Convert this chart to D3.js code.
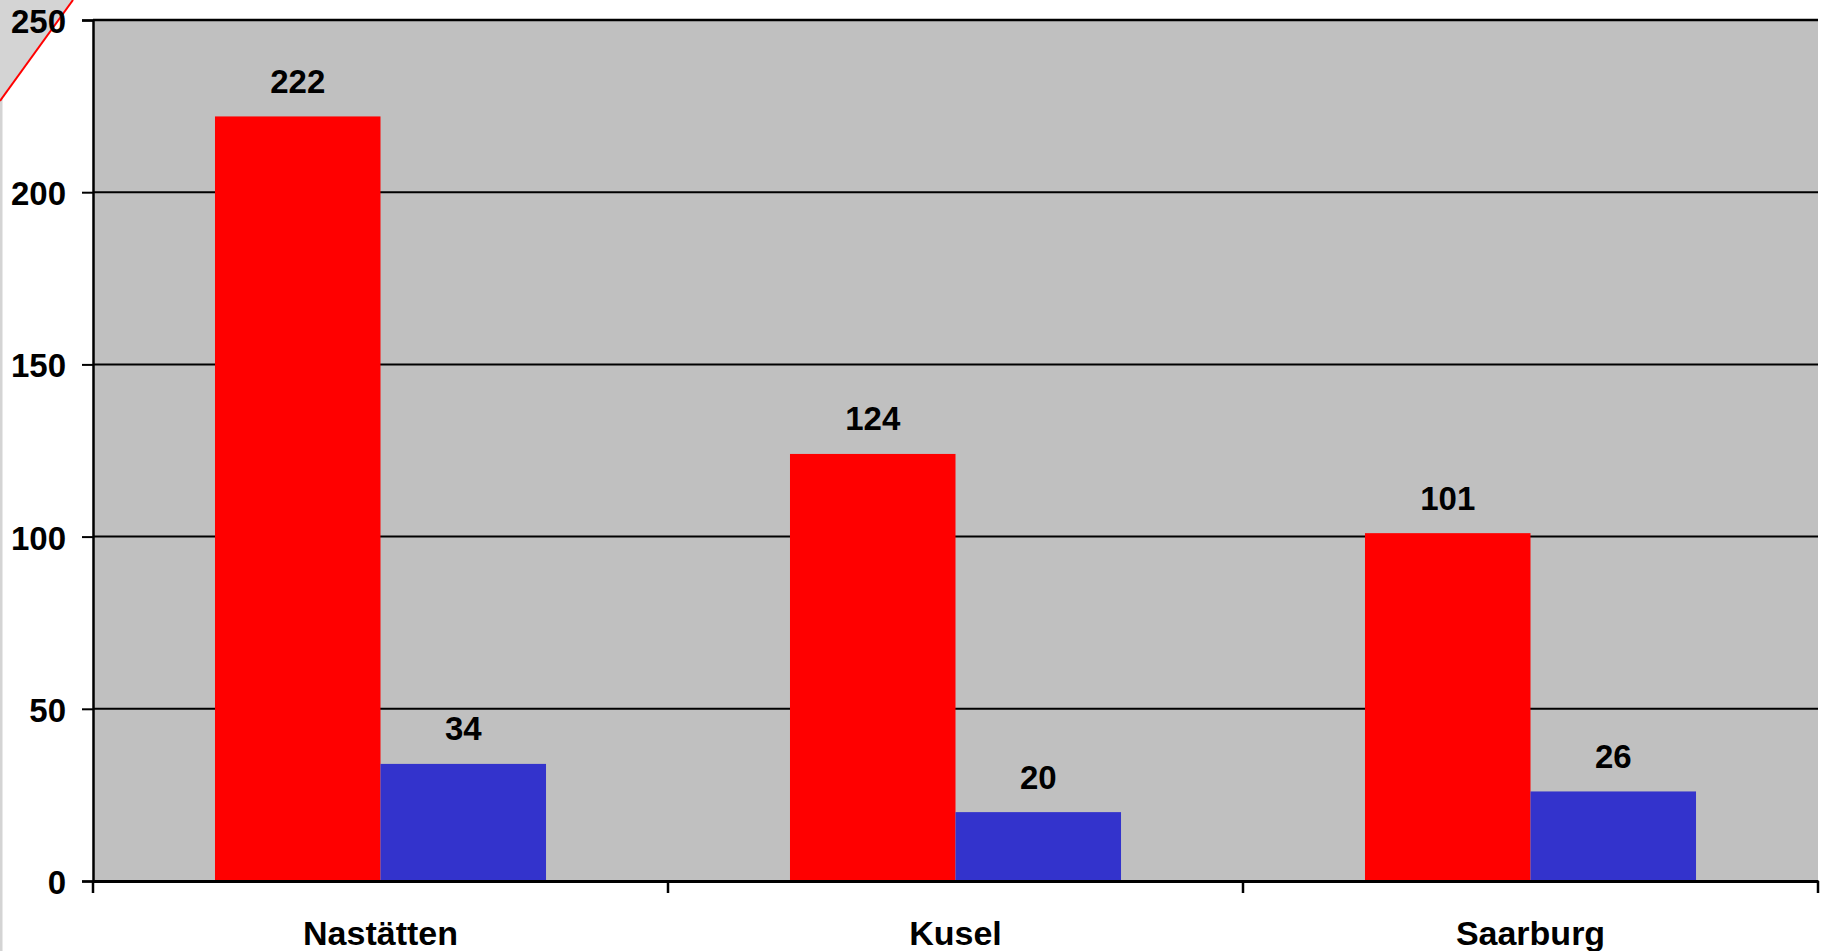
<!DOCTYPE html>
<html>
<head>
<meta charset="utf-8">
<script src="https://cdn.jsdelivr.net/npm/d3@7"></script>
<style>
  html, body { margin: 0; padding: 0; background: #fff; overflow: hidden; }
  svg { display: block; font-family: "Liberation Sans", Arial, sans-serif; font-weight: bold; }
</style>
</head>
<body>
<svg id="chart"></svg>
<script>
/* DATA */
const categories = ["Nastätten", "Kusel", "Saarburg"];
const seriesNames = ["rot", "blau"];
const redValues = [222, 124, 101];
const blueValues = [34, 20, 26];
const yTicks = [0, 50, 100, 150, 200, 250];

const colors = { rot: "#ff0000", blau: "#3333cc" };

const width = 1821;
const height = 951;
const margin = { top: 20, right: 3, bottom: 70, left: 93 };

// build rows from the arrays
const rows = categories.map((c, i) => ({ cat: c, rot: redValues[i], blau: blueValues[i] }));

const svg = d3.select("#chart")
    .attr("width", width)
    .attr("height", height);

/* SCALES */
const xScale = d3.scaleBand()
    .domain(categories)
    .range([margin.left, width - margin.right])
    .padding(0);

const xInner = d3.scaleBand()
    .domain(seriesNames)
    .range([0, xScale.bandwidth()])
    .paddingInner(0)
    .paddingOuter(0.737);

const yScale = d3.scaleLinear()
    .domain([0, 250])
    .range([height - margin.bottom, margin.top]);

// slide leftovers: grey strip + corner with red line
svg.append("rect")
    .attr("x", 0).attr("y", 0)
    .attr("width", 2.5).attr("height", height)
    .attr("fill", "#d4d4d4");

svg.append("path")
    .attr("d", "M0,0 L73,0 L0,101 Z")
    .attr("fill", "#d4d4d4");

svg.append("line")
    .attr("x1", 0).attr("y1", 101)
    .attr("x2", 73).attr("y2", 0)
    .attr("stroke", "#ff0000")
    .attr("stroke-width", 2);

// PLOT AREA
svg.append("rect")
    .attr("x", margin.left)
    .attr("y", margin.top)
    .attr("width", width - margin.right - margin.left)
    .attr("height", height - margin.bottom - margin.top)
    .attr("fill", "#c0c0c0");

// GRIDLINES
svg.selectAll("line.grid")
    .data(yTicks.filter(d => d > 0))
    .join("line")
    .attr("class", "grid")
    .attr("x1", margin.left)
    .attr("x2", width - margin.right)
    .attr("y1", d => yScale(d))
    .attr("y2", d => yScale(d))
    .attr("stroke", "#000")
    .attr("stroke-width", d => d === 250 ? 2.5 : 2);

// BARS
const groups = svg.selectAll("g.cat")
    .data(rows)
    .join("g")
    .attr("class", "cat")
    .attr("transform", d => `translate(${xScale(d.cat)},0)`);

groups.selectAll("rect")
    .data(d => seriesNames.map(s => ({ s: s, v: d[s] })))
    .join("rect")
    .attr("x", d => xInner(d.s))
    .attr("width", xInner.bandwidth())
    .attr("y", d => yScale(d.v))
    .attr("height", d => yScale(0) - yScale(d.v))
    .attr("fill", d => colors[d.s]);

// BAR NUMBERS
groups.selectAll("text")
    .data(d => seriesNames.map(s => ({ s: s, v: d[s] })))
    .join("text")
    .attr("x", d => xInner(d.s) + xInner.bandwidth() / 2)
    .attr("y", d => yScale(d.v) - 23.5)
    .attr("text-anchor", "middle")
    .attr("font-size", 33)
    .attr("fill", "#000")
    .text(d => d.v);

// AXES
const yAxisGroup = svg.append("g")
    .attr("transform", `translate(${margin.left},0)`)
    .call(d3.axisLeft(yScale).tickValues(yTicks).tickSize(11).tickPadding(16));

yAxisGroup.select(".domain")
    .attr("stroke", "#000")
    .attr("stroke-width", 2.5);
yAxisGroup.selectAll(".tick line")
    .attr("stroke", "#000")
    .attr("stroke-width", 2);
yAxisGroup.selectAll(".tick text")
    .attr("font-size", 33)
    .attr("font-family", "Liberation Sans, Arial, sans-serif")
    .attr("font-weight", "bold")
    .attr("fill", "#000")
    .attr("dy", "0.38em");

const xAxisGroup = svg.append("g")
    .attr("transform", `translate(0,${height - margin.bottom})`)
    .call(d3.axisBottom(xScale).tickSize(0).tickSizeOuter(0).tickPadding(0));

xAxisGroup.select(".domain")
    .attr("stroke", "#000")
    .attr("stroke-width", 3);
xAxisGroup.selectAll(".tick text")
    .attr("font-size", 34)
    .attr("font-family", "Liberation Sans, Arial, sans-serif")
    .attr("font-weight", "bold")
    .attr("fill", "#000")
    .attr("dy", 0)
    .attr("y", 64);

// category separator ticks
svg.selectAll("line.xtick")
    .data(categories.concat(["end"]))
    .join("line")
    .attr("class", "xtick")
    .attr("x1", (d, i) => i < categories.length ? xScale(d) : xScale(categories[categories.length - 1]) + xScale.bandwidth())
    .attr("x2", (d, i) => i < categories.length ? xScale(d) : xScale(categories[categories.length - 1]) + xScale.bandwidth())
    .attr("y1", yScale(0))
    .attr("y2", yScale(0) + 12)
    .attr("stroke", "#000")
    .attr("stroke-width", 2.5);
</script>
</body>
</html>
